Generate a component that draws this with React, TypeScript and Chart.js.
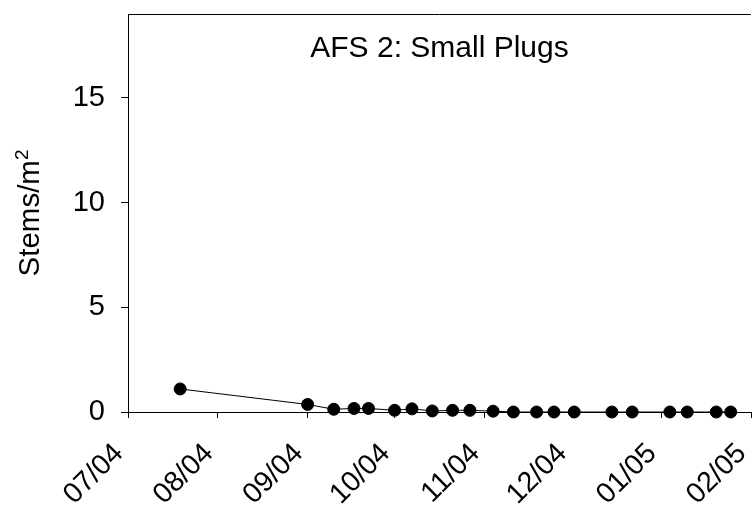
import React, { useEffect, useRef } from 'react';
import { Chart, registerables } from 'chart.js';

Chart.register(...registerables);

// ---- data ----
const sampleDates = [
  '2004-07-19', '2004-09-01', '2004-09-10', '2004-09-17', '2004-09-22',
  '2004-10-01', '2004-10-07', '2004-10-14', '2004-10-21', '2004-10-27',
  '2004-11-04', '2004-11-11', '2004-11-19', '2004-11-25', '2004-12-02',
  '2004-12-15', '2004-12-22', '2005-01-04', '2005-01-10', '2005-01-20',
  '2005-01-25',
];
const stemValues = [
  1.1, 0.36, 0.13, 0.17, 0.17,
  0.08, 0.15, 0.05, 0.08, 0.08,
  0.04, 0, 0, 0, 0,
  0, 0, 0, 0, 0,
  0,
];
const tickDates = [
  '2004-07-01', '2004-08-01', '2004-09-01', '2004-10-01',
  '2004-11-01', '2004-12-01', '2005-01-01', '2005-02-01',
];
const tickLabels = ['07/04', '08/04', '09/04', '10/04', '11/04', '12/04', '01/05', '02/05'];
const yTicks = [0, 5, 10, 15];
const yMin = 0;
const yMax = 19;
const chartTitle = 'AFS 2: Small Plugs';
const yAxisTitleMain = 'Stems/m';
const yAxisTitleSup = '2';

const DAY = 86400000;
const ORIGIN = Date.UTC(2004, 6, 1);
const toDay = (s: string) => {
  const [y, m, d] = s.split('-').map(Number);
  return (Date.UTC(y, m - 1, d) - ORIGIN) / DAY;
};

const FONT = "'Liberation Sans', Arial, sans-serif";

const framePlugin = {
  id: 'frameAndTitle',
  afterDraw(chart: any) {
    const { ctx, chartArea } = chart;
    ctx.save();
    // top frame line
    ctx.strokeStyle = '#000';
    ctx.lineWidth = 1;
    ctx.beginPath();
    ctx.moveTo(chartArea.left, Math.round(chartArea.top) + 0.5);
    ctx.lineTo(chartArea.right, Math.round(chartArea.top) + 0.5);
    ctx.stroke();
    // chart title inside plot area
    ctx.fillStyle = '#000';
    ctx.font = `30px ${FONT}`;
    ctx.textAlign = 'center';
    ctx.textBaseline = 'alphabetic';
    ctx.fillText(chartTitle, (chartArea.left + chartArea.right) / 2, 57);
    // y-axis title with superscript
    const midY = (chartArea.top + chartArea.bottom) / 2;
    ctx.font = `29.5px ${FONT}`;
    const wMain = ctx.measureText(yAxisTitleMain).width;
    ctx.font = `19px ${FONT}`;
    const wSup = ctx.measureText(yAxisTitleSup).width;
    const total = wMain + wSup;
    ctx.translate(38.5, midY);
    ctx.rotate(-Math.PI / 2);
    ctx.textAlign = 'left';
    ctx.font = `29.5px ${FONT}`;
    ctx.fillText(yAxisTitleMain, -total / 2, 0);
    ctx.font = `19px ${FONT}`;
    ctx.fillText(yAxisTitleSup, -total / 2 + wMain, -11);
    ctx.restore();
  },
};

export default function App() {
  const ref = useRef<HTMLCanvasElement>(null);

  useEffect(() => {
    if (!ref.current) return;
    const points = sampleDates.map((d, i) => ({ x: toDay(d), y: stemValues[i] }));
    const chart = new Chart(ref.current, {
      type: 'line',
      data: {
        datasets: [
          {
            data: points,
            borderColor: '#000',
            borderWidth: 1,
            pointRadius: 6,
            pointHoverRadius: 6,
            pointBackgroundColor: '#000',
            pointBorderColor: '#000',
            pointBorderWidth: 1,
            tension: 0,
            clip: false as any,
          },
        ],
      },
      options: {
        animation: false,
        responsive: false,
        devicePixelRatio: 1,
        layout: { padding: { top: 14, left: 0, right: 0, bottom: 0 } },
        plugins: {
          legend: { display: false },
          tooltip: { enabled: false },
          title: { display: false },
        },
        scales: {
          x: {
            type: 'linear',
            min: toDay(tickDates[0]),
            max: toDay(tickDates[tickDates.length - 1]),
            afterBuildTicks: (s: any) => {
              s.ticks = tickDates.map((d) => ({ value: toDay(d) }));
            },
            afterFit: (s: any) => {
              s.height = 94;
              s.paddingLeft = 0;
              s.paddingRight = 0;
            },
            ticks: {
              autoSkip: false,
              maxRotation: 45,
              minRotation: 45,
              padding: 19,
              labelOffset: -9,
              color: '#000',
              font: { family: FONT, size: 28.5 },
              callback: (_v: any, i: number) => tickLabels[i],
            },
            grid: { drawOnChartArea: false, drawTicks: true, tickLength: 6, color: '#000' },
            border: { display: true, color: '#000', width: 1, dash: [2, 2] },
          },
          y: {
            type: 'linear',
            min: yMin,
            max: yMax,
            afterBuildTicks: (s: any) => {
              s.ticks = yTicks.map((v) => ({ value: v }));
            },
            afterFit: (s: any) => {
              s.width = 128;
              s.paddingTop = 0;
              s.paddingBottom = 0;
            },
            ticks: {
              padding: 16,
              color: '#000',
              font: { family: FONT, size: 29 },
            },
            grid: { drawOnChartArea: false, drawTicks: true, tickLength: 7, color: '#000' },
            border: { display: true, color: '#000', width: 1 },
            title: { display: false },
          },
        },
      },
      plugins: [framePlugin],
    });
    return () => chart.destroy();
  }, []);

  return (
    <div
      style={{
        position: 'fixed',
        left: 0,
        top: 0,
        width: 753,
        height: 506,
        overflow: 'hidden',
        background: '#fff',
      }}
    >
      <canvas ref={ref} width={758} height={506} style={{ display: 'block' }} />
    </div>
  );
}
